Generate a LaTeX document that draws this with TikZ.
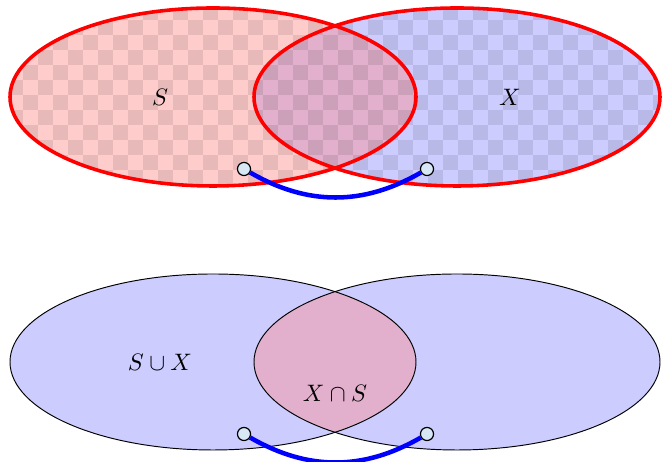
\documentclass[tikz,border=0pt]{standalone}
\usepackage{amsmath, amssymb}
\usepackage{xcolor}
\usetikzlibrary{positioning}
\definecolor{overlap}{HTML}{E2B0CC}
\definecolor{knobfill}{HTML}{D7E7F5}
\begin{document}
\begin{tikzpicture}[
        x=0.42pt, y=0.42pt,
        every node/.style={font=\normalsize},
        setS/.style={fill=red!20},
        setX/.style={fill=blue!20},
        rim/.style={draw=red, line width=1.5pt},
        thinrim/.style={draw=black, line width=0.4pt},
        checker/.style={fill=black, fill opacity=0.09},
        knob/.style={circle, draw, fill=knobfill, line width=0.5pt, inner sep=0pt, minimum size=5.5pt},
        link/.style={draw=blue, line width=1.9pt}
    ]
        \useasboundingbox (0,0) rectangle (662,462);
        % top pair, checkered
        \fill[setS] (213,365) ellipse [x radius=203, y radius=89];
        \fill[setX] (457,365) ellipse [x radius=203, y radius=89];
        \begin{scope}
            \clip (213,365) ellipse [x radius=203, y radius=89];
            \fill[overlap] (457,365) ellipse [x radius=203, y radius=89];
        \end{scope}
        \begin{scope}
            \clip (213,365) ellipse [x radius=203, y radius=89]
                  (457,365) ellipse [x radius=203, y radius=89];
            \foreach \i in {0,...,22}
                \foreach \j in {-4,...,3} {
                    \fill[checker] (-7+30*\i, 382+30*\j) rectangle ++(15,15);
                    \fill[checker] (8+30*\i, 367+30*\j) rectangle ++(15,15);
                }
        \end{scope}
        \draw[rim] (213,365) ellipse [x radius=203, y radius=89];
        \draw[rim] (457,365) ellipse [x radius=203, y radius=89];
        \node (lblS) at (160,365) {$S$};
        \node (lblX) at (510,365) {$X$};
        \node[knob] (sl) at (244,293) {};
        \node[knob] (sr) at (427,293) {};
        \draw[link] (sl) to[out=-30, in=-150] (sr);
        % bottom pair, union and intersection
        \fill[setX] (213,100) ellipse [x radius=203, y radius=88];
        \fill[setX] (457,100) ellipse [x radius=203, y radius=88];
        \begin{scope}
            \clip (213,100) ellipse [x radius=203, y radius=88];
            \fill[overlap] (457,100) ellipse [x radius=203, y radius=88];
        \end{scope}
        \draw[thinrim] (213,100) ellipse [x radius=203, y radius=88];
        \draw[thinrim] (457,100) ellipse [x radius=203, y radius=88];
        \node (lblU) at (160,100) {$S\cup X$};
        \node (lblI) at (335,69) {$X\cap S$};
        \node[knob] (ul) at (244,28) {};
        \node[knob] (ur) at (427,28) {};
        \draw[link] (ul) to[out=-30, in=-150] (ur);
    \end{tikzpicture}
\end{document}
